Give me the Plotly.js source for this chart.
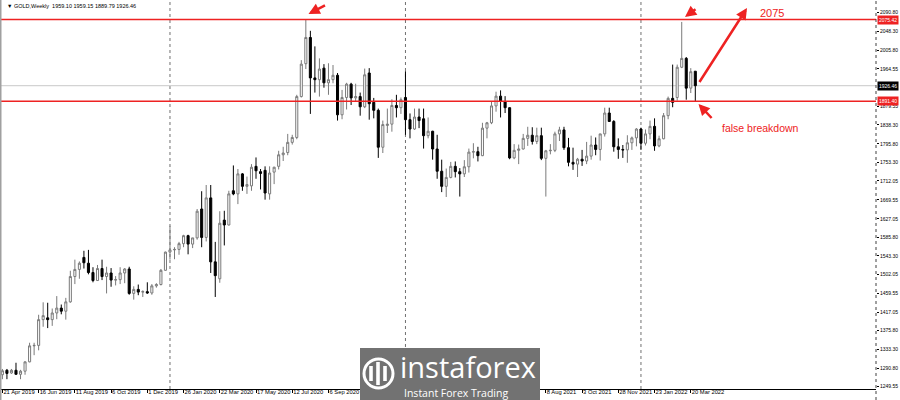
<!DOCTYPE html>
<html>
<head>
<meta charset="utf-8">
<script src="https://cdn.plot.ly/plotly-3.0.1.min.js"></script>
<style>html,body{margin:0;padding:0;background:#fff;}#chart{width:900px;height:400px;}</style>
</head>
<body>
<div id="chart"></div>
<script>
// ---- DATA (GOLD, Weekly, from week of 21 Apr 2019) ----
const firstWeek = '2019-04-21';
const opens = [1276,1286,1280,1286,1277,1284,1305,1341,1342,1400,1404,1400,1415,1426,1419,1440,1497,1513,1540,1527,1506,1488,1515,1497,1505,1489,1490,1505,1514,1459,1468,1462,1463,1460,1476,1479,1511,
1552,1557,1558,1571,1589,1570,1584,1649,1585,1674,1530,1492,1624,1613,1690,1683,1728,1700,1701,1745,1733,1736,1683,1732,1745,1771,1776,1799,1810,1902,1976,2035,1944,1940,1966,1933,1940,1950,1861,1900,1930,1899,1902,1879,1955,1889,1871,1788,1837,1840,1882,1877,
1900,1850,1829,1856,1852,1814,1824,1784,1734,1700,1720,1745,1733,1728,1744,1777,1778,1769,1831,1843,1881,1903,1891,1877,1764,1781,1784,1808,1815,1801,1814,1763,1780,1781,1818,1827,1787,1754,1750,1761,1757,1768,1793,1783,1818,1865,1846,1789,1783,1782,1798,1809,
1829,1797,1818,1835,1791,1807,1859,1898,1900,1968,1988,1921,1959.10];
const highs = [1289,1289,1289,1303,1287,1306,1348,1348,1411,1439,1438,1425,1453,1434,1449,1510,1535,1531,1555,1557,1518,1523,1535,1519,1516,1498,1518,1516,1519,1475,1479,1466,1484,1480,1482,1514,1553,
1611,1563,1575,1591,1591,1584,1649,1689,1703,1703,1575,1644,1645,1690,1747,1739,1730,1722,1750,1765,1739,1745,1745,1744,1780,1789,1818,1816,1906,1984,2075,2050,2015,1988,1975,1977,1973,1955,1917,1933,1933,1931,1911,1965,1966,1899,1875,1848,1875,1896,1906,1900,
1959,1864,1875,1875,1875,1855,1825,1816,1760,1740,1755,1756,1741,1759,1785,1797,1789,1843,1845,1890,1913,1916,1903,1878,1795,1794,1818,1834,1833,1832,1832,1782,1795,1823,1834,1834,1809,1787,1764,1782,1800,1814,1810,1818,1877,1877,1849,1808,1793,1815,1812,1831,
1832,1828,1848,1853,1814,1865,1902,1974,1974,2070,1991,1966,1959.15];
const lows = [1266,1266,1278,1280,1266,1276,1304,1320,1331,1384,1381,1386,1401,1412,1400,1438,1480,1492,1515,1502,1484,1488,1489,1459,1474,1477,1480,1482,1456,1445,1455,1451,1458,1456,1472,1477,1510,
1535,1536,1546,1563,1547,1561,1580,1563,1576,1505,1451,1483,1567,1612,1680,1660,1690,1683,1690,1717,1693,1670,1670,1705,1738,1757,1770,1794,1806,1900,1964,1863,1911,1902,1922,1906,1932,1848,1851,1873,1883,1890,1859,1876,1850,1853,1764,1775,1820,1823,1855,1863,
1816,1808,1827,1831,1785,1808,1760,1717,1687,1676,1718,1720,1677,1721,1731,1763,1756,1768,1808,1840,1868,1855,1865,1761,1761,1750,1783,1791,1794,1795,1759,1677,1772,1777,1802,1782,1745,1737,1721,1746,1750,1760,1770,1758,1812,1845,1778,1762,1764,1753,1782,1790,
1782,1792,1806,1780,1788,1806,1851,1878,1893,1966,1895,1910,1889.79];
const closes = [1285,1279,1286,1277,1284,1305,1341,1342,1400,1409,1400,1415,1426,1419,1440,1497,1513,1527,1528,1506,1488,1515,1497,1505,1489,1490,1505,1514,1459,1468,1462,1463,1460,1476,1479,1511,1552,
1557,1558,1571,1589,1570,1584,1644,1585,1674,1530,1499,1617,1613,1683,1683,1728,1700,1704,1743,1735,1729,1685,1730,1743,1771,1775,1799,1810,1902,1975,2035,1944,1940,1964,1933,1940,1950,1861,1900,1930,1899,1902,1879,1951,1886,1871,1788,1839,1840,1882,1877,1895,
1850,1829,1856,1848,1814,1824,1784,1734,1700,1720,1745,1733,1728,1744,1777,1778,1769,1831,1843,1881,1903,1891,1877,1764,1781,1784,1808,1815,1801,1814,1763,1780,1781,1818,1827,1787,1754,1750,1761,1757,1768,1793,1783,1818,1865,1846,1789,1783,1782,1798,1809,1829,
1797,1818,1835,1791,1807,1859,1898,1889,1968,1988,1921,1958,1926.46];

const header = '\u25BC GOLD,Weekly  1959.10 1959.15 1889.79 1926.46';
const yTicks = [2090.80,2048.30,2005.80,1964.55,1879.55,1838.30,1795.80,1753.30,1712.05,1669.55,1627.05,1585.80,1543.30,1502.05,1459.55,1417.05,1375.80,1333.30,1290.80,1249.55];
const xTickDates = ['2019-04-21','2019-06-16','2019-08-11','2019-10-06','2019-12-01','2020-01-26','2020-03-22','2020-05-17','2020-07-12','2020-09-06','2021-08-08','2021-10-03','2021-11-28','2022-01-23','2022-03-20'];
const xTickLabels = ['21 Apr 2019','16 Jun 2019','11 Aug 2019','6 Oct 2019','1 Dec 2019','26 Jan 2020','22 Mar 2020','17 May 2020','12 Jul 2020','6 Sep 2020','8 Aug 2021','3 Oct 2021','28 Nov 2021','23 Jan 2022','20 Mar 2022'];
const yearSeparators = ['2020-01-05','2021-01-03','2022-01-02'];
const resistance = 2075.42;
const support = 1891.40;
const lastPrice = 1926.46;
const targetLabel = '2075';
const breakdownLabel = 'false breakdown';

// ---- BUILD ----
const WEEK = 7*86400000;
const t0 = Date.parse(firstWeek + 'T00:00:00Z');
const dates = opens.map((_, i) => new Date(t0 + i*WEEK).toISOString().slice(0,10));
const toStr = ms => new Date(ms).toISOString().replace('T',' ').replace('Z','');

const W = 900, H = 400;
const M = {l:1, r:24, t:1, b:11};
const PW = W - M.l - M.r, PH = H - M.t - M.b;
const px = x => (x - M.l)/PW;
const py = y => (H - M.b - y)/PH;

const RED = '#ee2222';
const font = 'Liberation Sans, Arial, sans-serif';

const trace = {
  type:'candlestick', x:dates, open:opens, high:highs, low:lows, close:closes,
  increasing:{line:{color:'#7a7a7a', width:1}, fillcolor:'#ffffff'},
  decreasing:{line:{color:'#000000', width:1}, fillcolor:'#000000'},
  whiskerwidth:0, hoverinfo:'none', showlegend:false
};

const shapes = [];
yearSeparators.forEach(d => shapes.push({type:'line', xref:'x', yref:'paper', x0:d, x1:d, y0:0, y1:1, line:{color:'#707070', width:1, dash:'dot'}, layer:'below'}));
shapes.push({type:'line', xref:'paper', yref:'y', x0:0, x1:1, y0:lastPrice, y1:lastPrice, line:{color:'#c8c8c8', width:1}, layer:'below'});
[resistance, support].forEach(v => shapes.push({type:'line', xref:'paper', yref:'y', x0:0, x1:1, y0:v, y1:v, line:{color:RED, width:1.5}, layer:'above'}));
// frame
shapes.push({type:'line', xref:'paper', yref:'paper', x0:1, x1:1, y0:py(400), y1:1, line:{color:'#404040', width:1, dash:'dot'}});
shapes.push({type:'line', xref:'paper', yref:'paper', x0:px(0.5), x1:px(0.5), y0:py(400), y1:py(0), line:{color:'#a0a0a0', width:2}});
// watermark plate + icon
shapes.push({type:'rect', xref:'paper', yref:'paper', x0:px(360), x1:px(540), y0:py(400), y1:py(348), fillcolor:'#727272', line:{width:0}, layer:'above'});
shapes.push({type:'circle', xref:'paper', yref:'paper', x0:px(364), x1:px(393), y0:py(388), y1:py(359), fillcolor:'rgba(0,0,0,0)', line:{color:'#ffffff', width:3}, layer:'above'});
[[371,366,381],[378,362,385],[385,366,381]].forEach(b => shapes.push({type:'rect', xref:'paper', yref:'paper', x0:px(b[0]-1.8), x1:px(b[0]+1.8), y0:py(b[2]), y1:py(b[1]), fillcolor:'#ffffff', line:{width:0}, layer:'above'}));

const annotations = [];
annotations.push({xref:'paper', yref:'paper', x:px(5), y:py(6), xanchor:'left', yanchor:'middle', text:header, showarrow:false, font:{family:font, size:5.5, color:'#000'}});
// right axis price boxes
[[resistance, RED],[support, RED],[lastPrice,'#000000']].forEach(p => annotations.push({xref:'paper', yref:'y', x:1, y:p[0], xanchor:'left', yanchor:'middle', xshift:1, text:p[0].toFixed(2), showarrow:false, bgcolor:p[1], borderpad:1, font:{family:font, size:5, color:'#ffffff'}}));
// arrows
const arrow = (tx, ty, fx, fy) => ({xref:'paper', yref:'paper', x:px(tx), y:py(ty), ax:fx-tx, ay:fy-ty, axref:'pixel', ayref:'pixel', text:'', showarrow:true, arrowhead:2, arrowsize:0.9, arrowwidth:2.5, arrowcolor:RED, standoff:0});
annotations.push(arrow(308.5,14, 326.5,4.5));
annotations.push(arrow(685,17, 697,8));
annotations.push(arrow(747,8, 698.5,83.5));
annotations.push(arrow(698.5,104, 713,119.5));
annotations.push({xref:'paper', yref:'paper', x:px(771.5), y:py(13), xanchor:'center', yanchor:'middle', text:targetLabel, showarrow:false, font:{family:font, size:11, color:RED}});
annotations.push({xref:'paper', yref:'paper', x:px(760), y:py(128), xanchor:'center', yanchor:'middle', text:breakdownLabel, showarrow:false, font:{family:font, size:10.5, color:RED}});
// watermark text
annotations.push({xref:'paper', yref:'paper', x:px(398), y:py(366), xanchor:'left', yanchor:'middle', text:'instaforex', showarrow:false, font:{family:'Open Sans, sans-serif', size:29, color:'#ffffff'}});
annotations.push({xref:'paper', yref:'paper', x:px(402), y:py(393), xanchor:'left', yanchor:'middle', text:'Instant Forex Trading', showarrow:false, font:{family:'Open Sans, sans-serif', size:10.5, color:'#ffffff'}});

const layout = {
  width:W, height:H, margin:M, paper_bgcolor:'#ffffff', plot_bgcolor:'#ffffff',
  showlegend:false, boxgap:0.35, dragmode:false,
  font:{family:font, size:6, color:'#000'},
  xaxis:{type:'date', range:[toStr(t0 - 0.31*WEEK), toStr(t0 + 192.9*WEEK)], rangeslider:{visible:false},
    tickvals:xTickDates, ticktext:xTickLabels, tickfont:{family:font, size:5.8, color:'#000'}, tickangle:0,
    ticklabelposition:'outside right', ticklabelstandoff:-3, ticks:'outside', ticklen:3, tickcolor:'#000',
    showline:true, linecolor:'#000', linewidth:1, showgrid:false, zeroline:false, fixedrange:true},
  yaxis:{side:'right', range:[1243.9, 2117.1], tickvals:yTicks, ticktext:yTicks.map(v=>v.toFixed(2)),
    tickfont:{family:font, size:5, color:'#000'}, ticks:'outside', ticklen:2, tickcolor:'#000',
    showline:false, showgrid:false, zeroline:false, fixedrange:true},
  shapes:shapes, annotations:annotations
};

Plotly.newPlot('chart', [trace], layout, {staticPlot:true, displayModeBar:false});
</script>
</body>
</html>
